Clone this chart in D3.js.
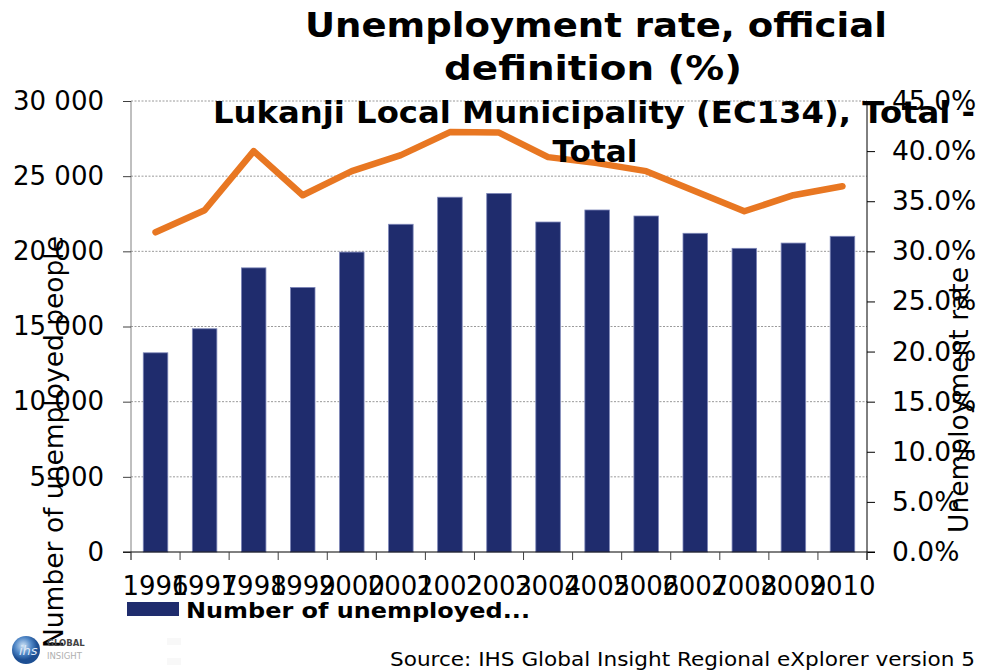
<!DOCTYPE html>
<html>
<head>
<meta charset="utf-8">
<script src="https://cdn.jsdelivr.net/npm/d3@7"></script>
<style>
  html, body { margin: 0; padding: 0; background: #fff; }
  svg { display: block; font-family: "DejaVu Sans", Verdana, sans-serif; }
</style>
</head>
<body>
<svg id="chart" width="983" height="670"></svg>
<script>
// Lukanji Local Municipality (EC134) – unemployment, 1996–2010
const years = ["1996","1997","1998","1999","2000","2001","2002","2003","2004","2005","2006","2007","2008","2009","2010"];
const unemployedPeople = [13250, 14850, 18900, 17600, 19950, 21800, 23600, 23850, 21950, 22750, 22350, 21200, 20200, 20550, 21000];
const unemploymentRate = [31.9, 34.1, 40.0, 35.6, 38.0, 39.6, 41.9, 41.85, 39.4, 38.8, 38.0, 36.0, 34.0, 35.6, 36.5];
const leftTicks = [0, 5000, 10000, 15000, 20000, 25000, 30000];
const rightTicks = [0, 5, 10, 15, 20, 25, 30, 35, 40, 45];
const titleLines = ["Unemployment rate, official", "definition (%)"];
const subtitleLines = ["Lukanji Local Municipality (EC134), Total -", "Total"];

const svg = d3.select("#chart");
const plot = { left: 131, right: 867, top: 101, bottom: 552 };

const x = d3.scaleBand().domain(years)
  .range([plot.left, plot.right]).paddingInner(0.5).paddingOuter(0.25);
const yLeft = d3.scaleLinear().domain([0, 30000]).range([plot.bottom, plot.top]);
const yRight = d3.scaleLinear().domain([0, 45]).range([plot.bottom, plot.top]);

// dotted gridlines on the left-axis ticks
svg.append("g").selectAll("line").data(leftTicks.filter(d => d > 0)).join("line")
  .attr("x1", plot.left).attr("x2", plot.right)
  .attr("y1", d => yLeft(d)).attr("y2", d => yLeft(d))
  .attr("stroke", "#9a9a9a").attr("stroke-width", 1).attr("stroke-dasharray", "2,1.5");

// bars
svg.append("g").selectAll("rect").data(years).join("rect")
  .attr("x", d => x(d)).attr("width", x.bandwidth())
  .attr("y", (d, i) => yLeft(unemployedPeople[i]))
  .attr("height", (d, i) => plot.bottom - yLeft(unemployedPeople[i]))
  .attr("fill", "#1f2c6d").attr("stroke", "#7d86b8").attr("stroke-width", 0.8);

// left axis
const fmtSpace = d => d3.format(",")(d).replace(/,/g, " ");
const gL = svg.append("g").attr("transform", `translate(${plot.left},0)`)
  .call(d3.axisLeft(yLeft).tickValues(leftTicks).tickFormat(fmtSpace).tickSizeOuter(0).tickSize(8).tickPadding(19));
gL.select(".domain").attr("stroke", "#808080").attr("d", `M0,${plot.top}V${plot.bottom + 8}`);
gL.selectAll(".tick line").attr("stroke", "#404040");
gL.selectAll("text").attr("font-size", 26).attr("fill", "#000").attr("font-family", "DejaVu Sans");

// right axis
const gR = svg.append("g").attr("transform", `translate(${plot.right},0)`)
  .call(d3.axisRight(yRight).tickValues(rightTicks).tickFormat(d => d.toFixed(1) + "%").tickSizeOuter(0).tickSize(8).tickPadding(17));
gR.select(".domain").attr("stroke", "#000").attr("d", `M0,${plot.top}V${plot.bottom + 8}`);
gR.selectAll(".tick line").attr("stroke", "#000");
gR.selectAll("text").attr("font-size", 26.5).attr("fill", "#000").attr("font-family", "DejaVu Sans");

// bottom axis with ticks between categories
const gB = svg.append("g").attr("transform", `translate(0,${plot.bottom})`);
gB.append("line").attr("x1", plot.left - 8).attr("x2", plot.right + 8)
  .attr("stroke", "#000").attr("stroke-width", 1);
const step = x.step();
const bounds = d3.range(years.length + 1).map(i => x(years[0]) - step * x.paddingOuter() + i * step);
gB.selectAll("line.tk").data(bounds).join("line").attr("class", "tk")
  .attr("x1", d => d).attr("x2", d => d).attr("y1", 0).attr("y2", 8)
  .attr("stroke", "#404040");
gB.selectAll("text").data(years).join("text")
  .attr("x", d => x(d) + x.bandwidth() / 2).attr("y", 43)
  .attr("text-anchor", "middle").attr("font-size", 26).attr("fill", "#000")
  .text(d => d);

// rate line
const line = d3.line()
  .x((d, i) => x(years[i]) + x.bandwidth() / 2)
  .y(d => yRight(d));
svg.append("path").datum(unemploymentRate)
  .attr("d", line).attr("fill", "none")
  .attr("stroke", "#e87722").attr("stroke-width", 6.5)
  .attr("stroke-linejoin", "round").attr("stroke-linecap", "round");

// titles
const titles = svg.append("g").attr("font-weight", "bold").attr("fill", "#000").attr("text-anchor", "middle");
titles.append("text").attr("x", 596).attr("y", 37).attr("font-size", 33)
  .attr("textLength", 582).attr("lengthAdjust", "spacingAndGlyphs").text(titleLines[0]);
titles.append("text").attr("x", 593).attr("y", 80).attr("font-size", 33)
  .attr("textLength", 298).attr("lengthAdjust", "spacingAndGlyphs").text(titleLines[1]);
titles.append("text").attr("x", 594).attr("y", 123).attr("font-size", 31)
  .attr("textLength", 762).attr("lengthAdjust", "spacingAndGlyphs").text(subtitleLines[0]);
titles.append("text").attr("x", 595).attr("y", 162).attr("font-size", 31)
  .attr("textLength", 85).attr("lengthAdjust", "spacingAndGlyphs").text(subtitleLines[1]);

// axis titles
svg.append("text").attr("transform", "translate(63,442) rotate(-90)")
  .attr("text-anchor", "middle").attr("font-size", 26.5).attr("fill", "#000")
  .text("Number of unemployed people");
svg.append("text").attr("transform", "translate(968,400) rotate(-90)")
  .attr("text-anchor", "middle").attr("font-size", 26.5).attr("fill", "#000")
  .text("Unemployment rate");

// legend
svg.append("rect").attr("x", 127).attr("y", 602).attr("width", 52).attr("height", 14).attr("fill", "#1f2c6d");
svg.append("text").attr("x", 186).attr("y", 618).attr("font-size", 22).attr("font-weight", "bold")
  .attr("textLength", 344).attr("lengthAdjust", "spacingAndGlyphs")
  .text("Number of unemployed...");

// source note
svg.append("text").attr("x", 975).attr("y", 666).attr("text-anchor", "end")
  .attr("font-size", 20).attr("fill", "#000")
  .attr("textLength", 585).attr("lengthAdjust", "spacingAndGlyphs")
  .text("Source: IHS Global Insight Regional eXplorer version 5");

// faint placeholder squares beside the legend
svg.append("g").selectAll("rect").data([638, 658]).join("rect")
  .attr("x", 167).attr("y", d => d).attr("width", 14).attr("height", 7).attr("fill", "#f8f8f8");

// publisher mark
const logo = svg.append("g").attr("transform", "translate(26,650)");
const grad = svg.append("defs").append("radialGradient").attr("id", "globe").attr("cx", "40%").attr("cy", "35%");
grad.append("stop").attr("offset", "0%").attr("stop-color", "#cfe3f5");
grad.append("stop").attr("offset", "60%").attr("stop-color", "#4f86c6");
grad.append("stop").attr("offset", "100%").attr("stop-color", "#1d4f93");
logo.append("circle").attr("r", 14).attr("fill", "url(#globe)");
logo.append("text").attr("x", -7).attr("y", 5).attr("font-size", 13).attr("fill", "#dfe9f7").attr("font-style", "italic").text("ihs");
logo.append("text").attr("x", 21).attr("y", -4).attr("font-size", 8.5).attr("font-weight", "bold").attr("fill", "#444").text("GLOBAL");
logo.append("text").attr("x", 21).attr("y", 9).attr("font-size", 8.5).attr("fill", "#b0b0b0").text("INSIGHT");
</script>
</body>
</html>
